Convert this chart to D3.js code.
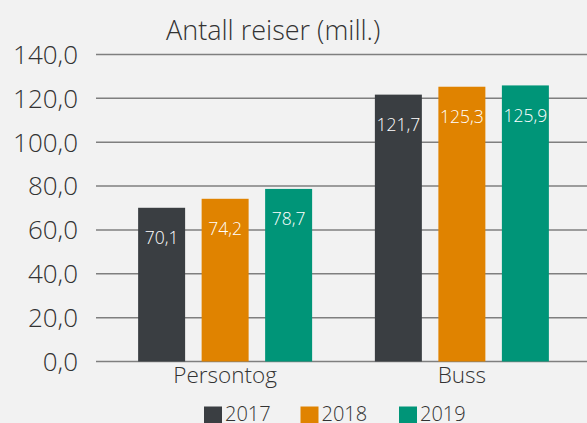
<!DOCTYPE html>
<html>
<head>
<meta charset="utf-8">
<script src="https://cdn.jsdelivr.net/npm/d3@7"></script>
<style>
  body { margin: 0; background: #f2f2f2; }
  svg { display: block; font-family: "Open Sans", "DejaVu Sans", sans-serif; font-weight: 350; }
</style>
</head>
<body>
<script>
// data
var categories = ['Persontog', 'Buss'];
var years = ['2017', '2018', '2019'];
var values2017 = [70.1, 121.7];
var values2018 = [74.2, 125.3];
var values2019 = [78.7, 125.9];
var yTicks = [0, 20, 40, 60, 80, 100, 120, 140];
var colors = ['#3a3e42', '#e08300', '#009578'];

var seriesValues = [values2017, values2018, values2019];

var w = 587, h = 423;

var svg = d3.select("body").append("svg")
    .attr("width", w)
    .attr("height", h);

svg.append("rect")
  .attr("width", w).attr("height", h)
  .attr("fill", "#f2f2f2");

var fmt = function(v) { return d3.format(".1f")(v).replace(".", ","); };

var y = d3.scaleLinear()
  .domain([0, 140])
  .range([361.5, 54.5]);

var x0 = d3.scaleBand()
  .domain(categories)
  .range([106.75, 580.25]);

var x1 = d3.scaleBand()
  .domain(years)
  .range([0, 174])
  .paddingInner(0.26);

// gridlines
svg.append("g")
  .selectAll("line")
  .data(yTicks)
  .enter().append("line")
  .attr("x1", 96).attr("x2", w)
  .attr("y1", function(d) { return y(d); })
  .attr("y2", function(d) { return y(d); })
  .attr("stroke", "#7f7f7f")
  .attr("stroke-width", 1.5);

// y labels
svg.append("g")
  .selectAll("text")
  .data(yTicks)
  .enter().append("text")
  .attr("x", 78)
  .attr("y", function(d) { return y(d); })
  .attr("dy", "0.36em")
  .attr("text-anchor", "end")
  .attr("font-size", "26px")
  .attr("fill", "#333")
  .text(fmt);

// bars
var groups = svg.selectAll("g.cat")
  .data(categories)
  .enter().append("g")
  .attr("class", "cat")
  .attr("transform", function(d) {
    return "translate(" + (x0(d) + (x0.bandwidth() - 174) / 2) + ",0)";
  });

groups.selectAll("rect")
  .data(function(d, i) {
    return years.map(function(yr, j) { return { yr: yr, v: seriesValues[j][i], c: colors[j] }; });
  })
  .enter().append("rect")
  .attr("x", function(d) { return x1(d.yr); })
  .attr("y", function(d) { return y(d.v); })
  .attr("width", x1.bandwidth())
  .attr("height", function(d) { return y(0) - y(d.v); })
  .attr("fill", function(d) { return d.c; });

groups.selectAll("text")
  .data(function(d, i) {
    return years.map(function(yr, j) { return { yr: yr, v: seriesValues[j][i] }; });
  })
  .enter().append("text")
  .attr("x", function(d) { return x1(d.yr) + x1.bandwidth() / 2; })
  .attr("y", function(d) { return y(d.v) + 30; })
  .attr("dy", "0.36em")
  .attr("text-anchor", "middle")
  .attr("font-size", "17.5px")
  .attr("fill", "#ffffff")
  .text(function(d) { return fmt(d.v); });

// category labels
svg.append("g")
  .selectAll("text")
  .data(categories)
  .enter().append("text")
  .attr("x", function(d) { return x0(d) + x0.bandwidth() / 2; })
  .attr("y", 383)
  .attr("text-anchor", "middle")
  .attr("font-size", "22.5px")
  .attr("fill", "#333")
  .text(function(d) { return d; });

// title
svg.append("text")
  .attr("x", 166)
  .attr("y", 40)
  .attr("font-size", "27px")
  .attr("fill", "#333")
  .text("Antall reiser (mill.)");

// legend
var legendX = [204, 300.5, 399];
var legend = svg.selectAll("g.legend")
  .data(years)
  .enter().append("g")
  .attr("class", "legend")
  .attr("transform", function(d, i) { return "translate(" + legendX[i] + ",406.5)"; });

legend.append("rect")
  .attr("width", 18).attr("height", 18)
  .attr("fill", function(d, i) { return colors[i]; });

legend.append("text")
  .attr("x", 21)
  .attr("y", 14.5)
  .attr("font-size", "20px")
  .attr("fill", "#333")
  .text(function(d) { return d; });
</script>
</body>
</html>
